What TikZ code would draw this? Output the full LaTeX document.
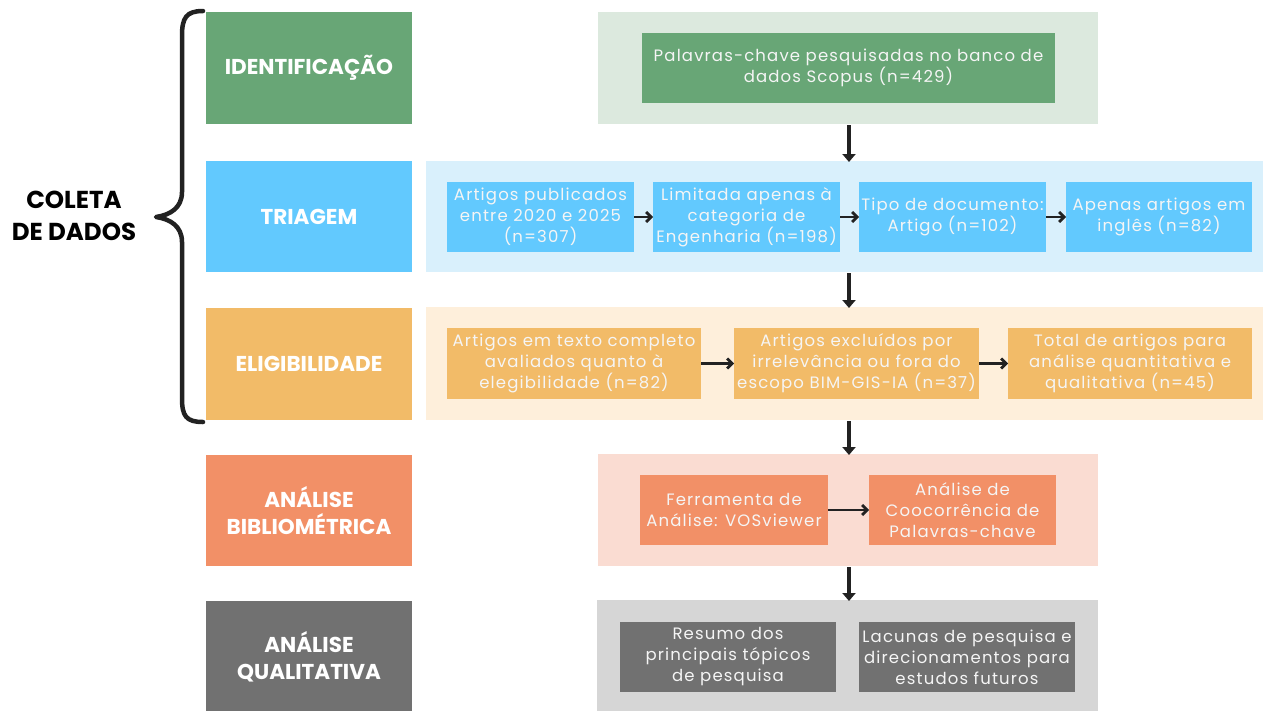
\documentclass[tikz,border=0pt]{standalone}
\usepackage{fontspec}
\setmainfont{Poppins}[LetterSpace=7]
\newfontfamily\labfont{Poppins}
\usetikzlibrary{arrows.meta}
\definecolor{gD}{HTML}{68A676}\definecolor{gL}{HTML}{DCE9DE}
\definecolor{bD}{HTML}{62C9FE}\definecolor{bL}{HTML}{D9F0FC}
\definecolor{oD}{HTML}{F2BB68}\definecolor{oL}{HTML}{FEEFDB}
\definecolor{sD}{HTML}{F29067}\definecolor{sL}{HTML}{FADCD2}
\definecolor{kD}{HTML}{717171}\definecolor{kL}{HTML}{D6D6D6}
\definecolor{ink}{HTML}{222222}
\begin{document}
\begin{tikzpicture}[x=1pt,y=-1pt,
  stage/.style={inner sep=0pt,outer sep=0pt,minimum width=206pt,text=white,align=center,
    font=\labfont\bfseries\fontsize{21.5}{27}\selectfont},
  panel/.style={inner sep=0pt,outer sep=0pt},
  item/.style={inner sep=0pt,outer sep=0pt,minimum height=70pt,text=white!96!black,align=center,
    font=\fontsize{16.5}{21}\selectfont},
  varrow/.style={ink,line width=3.5pt,-{Triangle[length=8pt,width=13pt]}},
  harrow/.style={ink,line width=2.8pt,-{Straight Barb[length=5pt,width=10pt]}}]
\useasboundingbox (0,0) rectangle (1263,710);
\fill[white] (0,0) rectangle (1263,710);
% left stage boxes
\node[stage,fill=gD,minimum height=112pt] (sid) at (309,68) {IDENTIFICAÇÃO};
\node[stage,fill=bD,minimum height=111pt] (stri) at (309,216.5) {TRIAGEM};
\node[stage,fill=oD,minimum height=112pt] (sele) at (309,364) {ELIGIBILIDADE};
\node[stage,fill=sD,minimum height=111pt] (sbib) at (309,510.5) {ANÁLISE\\BIBLIOMÉTRICA};
\node[stage,fill=kD,minimum height=112pt] (squa) at (309,656.5) {ANÁLISE\\QUALITATIVA};
% brace and label
\draw[ink,line width=4.5pt,line cap=round,line join=round]
  (203,11) .. controls (186,11) and (182,18) .. (182,36) -- (182,192)
  .. controls (182,208) and (170,215) .. (156,217)
  .. controls (170,219) and (182,226) .. (182,242) -- (182,398)
  .. controls (182,416) and (186,422) .. (203,422);
\node[font=\labfont\bfseries\fontsize{24.5}{32}\selectfont,align=center,text=black] (cole) at (74,216) {COLETA\\DE DADOS};
% panels
\node[panel,fill=gL,minimum width=500pt,minimum height=112pt] (pid) at (848,68) {};
\node[panel,fill=bL,minimum width=837pt,minimum height=111pt] (ptri) at (844.5,216.5) {};
\node[panel,fill=oL,minimum width=837pt,minimum height=113pt] (pele) at (844.5,363.5) {};
\node[panel,fill=sL,minimum width=500pt,minimum height=112pt] (pbib) at (848,510) {};
\node[panel,fill=kL,minimum width=501pt,minimum height=112pt] (pqua) at (847.5,656) {};
% items
\node[item,fill=gD,minimum width=413pt] (i1) at (848.5,68) {Palavras-chave pesquisadas no banco de\\dados Scopus (n=429)};
\node[item,fill=bD,minimum width=187pt] (t1) at (540.5,217) {Artigos publicados\\entre 2020 e 2025\\(n=307)};
\node[item,fill=bD,minimum width=187pt] (t2) at (746.5,217) {Limitada apenas à\\categoria de\\Engenharia (n=198)};
\node[item,fill=bD,minimum width=187pt] (t3) at (952.5,217) {Tipo de documento:\\Artigo (n=102)};
\node[item,fill=bD,minimum width=186pt] (t4) at (1159,217) {Apenas artigos em\\inglês (n=82)};
\node[item,fill=oD,minimum width=254pt,minimum height=71pt] (e1) at (574,363.5) {Artigos em texto completo\\avaliados quanto à\\elegibilidade (n=82)};
\node[item,fill=oD,minimum width=245pt,minimum height=71pt] (e2) at (856.5,363.5) {Artigos excluídos por\\irrelevância ou fora do\\escopo BIM-GIS-IA (n=37)};
\node[item,fill=oD,minimum width=244pt,minimum height=71pt] (e3) at (1130,363.5) {Total de artigos para\\análise quantitativa e\\qualitativa (n=45)};
\node[item,fill=sD,minimum width=188pt] (b1) at (734,510) {Ferramenta de\\Análise: VOSviewer};
\node[item,fill=sD,minimum width=187pt] (b2) at (962.5,510) {Análise de\\Coocorrência de\\Palavras-chave};
\node[item,fill=kD,minimum width=216pt] (q1) at (728,657) {Resumo dos\\principais tópicos\\de pesquisa};
\node[item,fill=kD,minimum width=216pt] (q2) at (967,657) {Lacunas de pesquisa e\\direcionamentos para\\estudos futuros};
% vertical arrows
\coordinate (a1) at (849,125); \coordinate (a1e) at (849,162);
\coordinate (a2) at (849,273); \coordinate (a2e) at (849,308);
\coordinate (a3) at (849,421); \coordinate (a3e) at (849,455);
\coordinate (a4) at (849,567); \coordinate (a4e) at (849,601);
\draw[varrow] (a1) -- (a1e);
\draw[varrow] (a2) -- (a2e);
\draw[varrow] (a3) -- (a3e);
\draw[varrow] (a4) -- (a4e);
% horizontal arrows
\draw[harrow] (t1) -- (t2);
\draw[harrow] (t2) -- (t3);
\draw[harrow] (t3) -- (t4);
\draw[harrow] (e1) -- (e2);
\draw[harrow] (e2) -- (e3);
\draw[harrow] (b1) -- (b2);
\end{tikzpicture}
\end{document}
